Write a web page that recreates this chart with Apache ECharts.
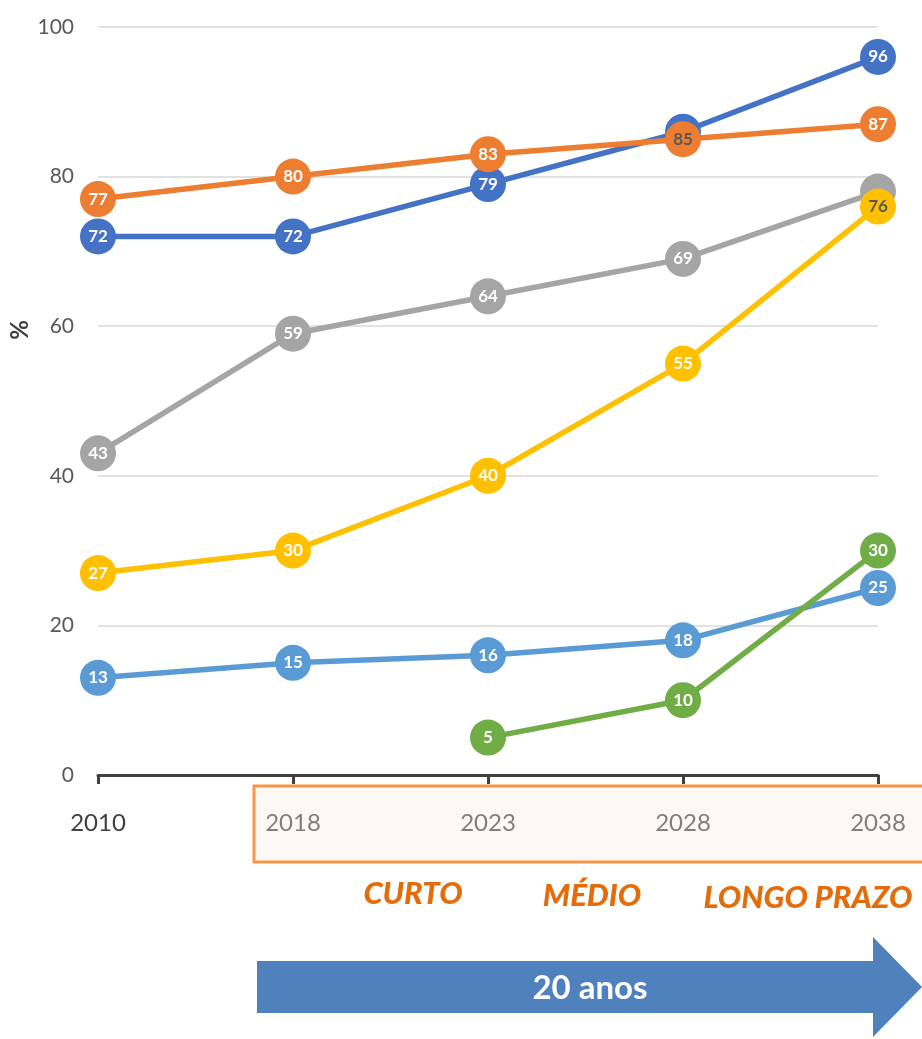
<!DOCTYPE html>
<html>
<head>
<meta charset="utf-8">
<script src="https://cdn.jsdelivr.net/npm/echarts@6/dist/echarts.min.js"></script>
<style>
  html, body { margin: 0; padding: 0; background: #fff; }
  #chart { width: 922px; height: 1039px; }
</style>
</head>
<body>
<div id="chart"></div>
<script>
const years = ['2010', '2018', '2023', '2028', '2038'];
const yTicks = [0, 20, 40, 60, 80, 100];

const darkBlue = [72, 72, 79, 86, 96];
const orange = [77, 80, 83, 85, 87];
const gray = [43, 59, 64, 69, 78];
const yellow = [27, 30, 40, 55, 76];
const lightBlue = [13, 15, 16, 18, 25];
const green = ['-', '-', 5, 10, 30];

const phases = ['CURTO', 'MÉDIO', 'LONGO PRAZO'];
const spanLabel = '20 anos';

const chartDom = document.getElementById('chart');
const chart = echarts.init(chartDom);

const labelFont = 'Lato, "Open Sans", sans-serif';

// one line series with round markers and the value written inside
function lineSeries(name, values, color, opts) {
    opts = opts || {};
    return {
        name: name,
        type: 'line',
        data: values.map((v, i) => {
            const item = { value: v };
            if (opts.hide && opts.hide.indexOf(i) >= 0) item.label = { show: false };
            if (opts.dark && opts.dark.indexOf(i) >= 0) item.label = { color: '#595959' };
            return item;
        }),
        symbol: 'circle',
        symbolSize: 36,
        itemStyle: { color: color },
        lineStyle: { color: color, width: 5.5 },
        label: {
            show: true,
            position: 'inside',
            color: '#fff',
            fontSize: 17,
            fontWeight: 'bold',
            fontFamily: labelFont
        }
    };
}

const options = {
    animation: false,
    grid: { left: 98, right: 44, top: 27, bottom: 264 },
    xAxis: {
        type: 'category',
        data: years,
        boundaryGap: false,
        axisLine: { lineStyle: { color: '#404040', width: 3 } },
        axisTick: { show: true, length: 9, lineStyle: { color: '#404040', width: 3 } },
        axisLabel: {
            margin: 36,
            fontSize: 24,
            fontFamily: labelFont,
            color: (v) => v === '2010' ? '#404040' : '#7f7f7f'
        }
    },
    yAxis: {
        type: 'value',
        min: yTicks[0],
        max: yTicks[yTicks.length - 1],
        interval: 20,
        axisLine: { show: false },
        axisTick: { show: false },
        axisLabel: { fontSize: 21, color: '#595959', margin: 24, fontFamily: labelFont },
        splitLine: { lineStyle: { color: '#d9d9d9', width: 1.5 } }
    },
    series: [
        lineSeries('light blue', lightBlue, '#5b9bd5'),
        lineSeries('green', green, '#70ad47'),
        lineSeries('gray', gray, '#a5a5a5', { hide: [4] }),
        lineSeries('yellow', yellow, '#ffc000', { dark: [4] }),
        lineSeries('blue', darkBlue, '#4472c4', { hide: [3] }),
        lineSeries('orange', orange, '#ed7d31', { dark: [3] })
    ],
    graphic: [
        {
            type: 'text', x: 20, y: 330, rotation: Math.PI / 2,
            style: { text: '%', fill: '#404040', font: 'bold 24px Lato, sans-serif', align: 'center', verticalAlign: 'middle' }
        },
        {
            type: 'rect',
            z: -10,
            shape: { x: 254, y: 786, width: 670, height: 76 },
            style: { fill: '#fdf8f4', stroke: '#f79646', lineWidth: 3 }
        },
        {
            type: 'text', x: 413, y: 894,
            style: { text: phases[0], fill: '#e46c0a', font: 'italic 900 31px Lato, sans-serif', align: 'center', verticalAlign: 'middle' }
        },
        {
            type: 'text', x: 592, y: 896,
            style: { text: phases[1], fill: '#e46c0a', font: 'italic 900 31px Lato, sans-serif', align: 'center', verticalAlign: 'middle' }
        },
        {
            type: 'text', x: 808, y: 898,
            style: { text: phases[2], fill: '#e46c0a', font: 'italic 900 31px Lato, sans-serif', align: 'center', verticalAlign: 'middle' }
        },
        {
            type: 'polygon',
            shape: { points: [[257, 961], [873, 961], [873, 937], [922, 987], [873, 1037], [873, 1013], [257, 1013]] },
            style: { fill: '#4f81bd' }
        },
        {
            type: 'text', x: 590, y: 988,
            style: { text: spanLabel, fill: '#fff', font: 'bold 33px Lato, sans-serif', align: 'center', verticalAlign: 'middle' }
        }
    ]
};

chart.setOption(options);
</script>
</body>
</html>
